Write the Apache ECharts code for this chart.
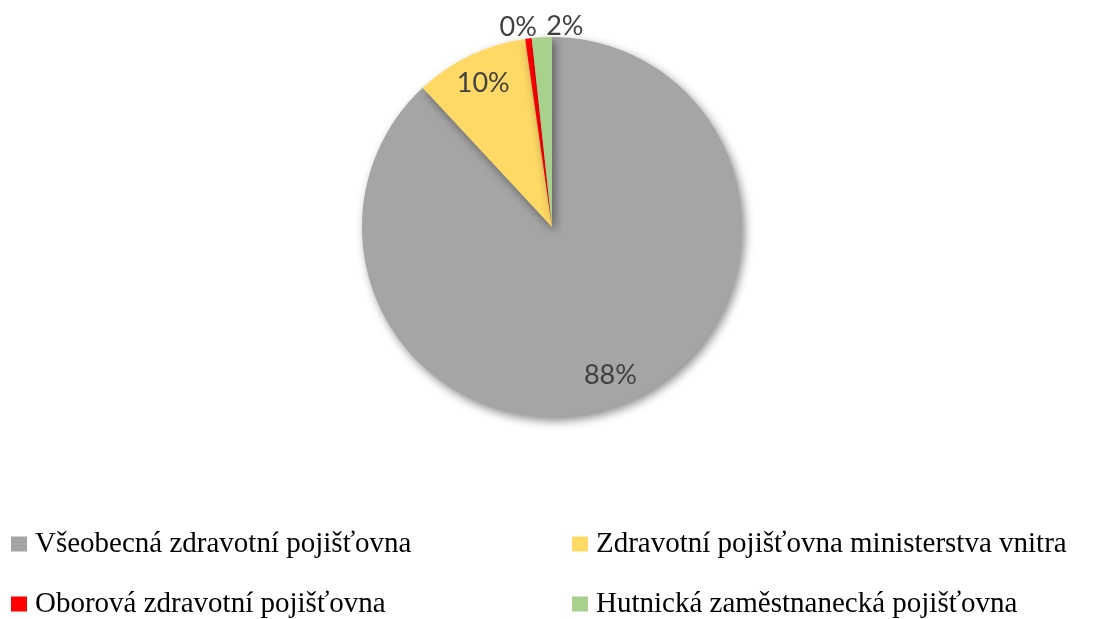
<!DOCTYPE html>
<html><head><meta charset="utf-8">
<script src="https://cdn.jsdelivr.net/npm/echarts@6/dist/echarts.min.js"></script>
<style>html,body{margin:0;padding:0;background:#fff}#c{width:1104px;height:619px}</style>
</head><body><div id="c"></div>
<script>
const categories = ['Všeobecná zdravotní pojišťovna','Zdravotní pojišťovna ministerstva vnitra','Oborová zdravotní pojišťovna','Hutnická zaměstnanecká pojišťovna'];
const values = [88.08, 9.67, 0.55, 1.7];
const labels = ['88%','10%','0%','2%'];
const colors = ['#A5A5A5','#FFD966','#FF0000','#A9D18E'];

const chart = echarts.init(document.getElementById('c'));
const CY = 227, R = 190;
const radialScale = [1.63, 1.63, 2.05, 2.05];
const extraDx = [0, 0, -9, 23.5];

const legendText = { fontFamily: 'Liberation Serif', fontSize: 29, color: '#000', lineHeight: 30, padding: [0,0,0,3] };

chart.setOption({
  animation: false,
  legend: [
    { data: [categories[0], categories[2]], orient: 'vertical', left: 11, top: 529, height: 200, padding: 0,
      itemWidth: 16, itemHeight: 15, itemGap: 30, icon: 'rect', textStyle: legendText },
    { data: [categories[1], categories[3]], orient: 'vertical', left: 572, top: 529, height: 200, padding: 0,
      itemWidth: 16, itemHeight: 15, itemGap: 30, icon: 'rect', textStyle: legendText }
  ],
  series: [{
    type: 'pie',
    center: ['50%', CY],
    radius: [0, R],
    startAngle: 90,
    clockwise: true,
    avoidLabelOverlap: false,
    data: categories.map((n, i) => ({ name: n, value: values[i], itemStyle: { color: colors[i] } })),
    itemStyle: { shadowBlur: 10, shadowOffsetX: 3, shadowOffsetY: 4, shadowColor: 'rgba(0,0,0,0.45)' },
    label: {
      show: true, position: 'inside',
      formatter: p => labels[p.dataIndex],
      fontFamily: 'Lato', fontSize: 27, color: '#404040'
    },
    labelLine: { show: false },
    labelLayout: function (p) {
      const cx = chart.getWidth() / 2;
      const lx = p.labelRect.x + p.labelRect.width / 2;
      const ly = p.labelRect.y + p.labelRect.height / 2;
      const k = radialScale[p.dataIndex] - 1;
      return { dx: (lx - cx) * k + extraDx[p.dataIndex], dy: (ly - CY) * k };
    },
    emphasis: { disabled: true }
  }]
});
</script></body></html>
